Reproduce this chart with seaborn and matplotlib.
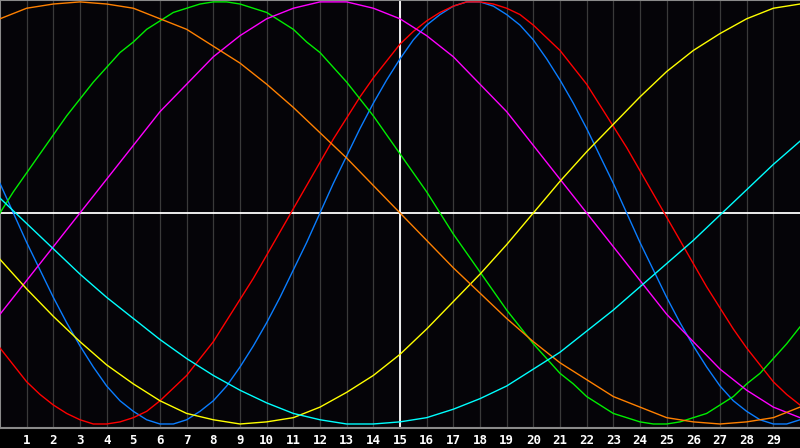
import matplotlib
matplotlib.use('Agg')
import matplotlib.pyplot as plt
import seaborn as sns
import pandas as pd


# dias do mês e valores, em % (-100..100)
dias = list(range(0, 31))                    # passo de 1 dia
meios_dias = [d / 2 for d in range(0, 61)]   # passo de meio dia (ciclos curtos)

fisico = [14, 0, -14, -27, -40, -52, -63, -73, -82, -89, -94, -98, -100, -100, -98, -94,
          -89, -82, -73, -63, -52, -40, -27, -14, 0, 14, 27, 40, 52, 63, 73, 82,
          89, 94, 98, 100, 100, 98, 94, 89, 82, 73, 63, 52, 40, 27, 14, 0,
          -14, -27, -40, -52, -63, -73, -82, -89, -94, -98, -100, -100, -98]
emocional = [-64, -72, -80, -86, -91, -95, -98, -100, -100, -99, -97, -94, -89, -83, -77, -69,
             -61, -51, -41, -31, -20, -9, 2, 13, 24, 35, 45, 55, 64, 72, 80, 86,
             91, 95, 98, 100, 100, 99, 97, 94, 89, 83, 77, 69, 61, 51, 41, 31,
             20, 9, -2, -13, -24, -35, -45, -55, -64, -72, -80, -86, -91]
intelectual = [0, 10, 19, 28, 37, 46, 54, 62, 69, 76, 81, 87, 91, 95, 97, 99,
               100, 100, 99, 97, 95, 91, 87, 81, 76, 69, 62, 54, 46, 37, 28, 19,
               10, 0, -10, -19, -28, -37, -46, -54, -62, -69, -76, -81, -87, -91, -95, -97,
               -99, -100, -100, -99, -97, -95, -91, -87, -81, -76, -69, -62, -54]
intuitivo = [-48, -32, -16, 0, 16, 32, 48, 61, 74, 84, 92, 97, 100, 100, 97, 92,
             84, 74, 61, 48, 32, 16, 0, -16, -32, -48, -61, -74, -84, -92, -97]
estetico = [-22, -36, -49, -61, -72, -81, -89, -95, -98, -100, -99, -97, -92, -85, -77, -67,
            -55, -42, -29, -15, 0, 15, 29, 42, 55, 67, 77, 85, 92, 97, 99]
consciencia = [92, 97, 99, 100, 99, 97, 92, 87, 79, 71, 61, 50, 38, 26, 13, 0,
               -13, -26, -38, -50, -61, -71, -79, -87, -92, -97, -99, -100, -99, -97, -92]
espiritual = [7, -5, -17, -29, -40, -50, -60, -69, -77, -84, -90, -95, -98, -100, -100, -99,
              -97, -93, -88, -82, -74, -66, -56, -46, -35, -24, -13, -1, 11, 23, 34]

rotulos = [str(d) for d in range(1, 30)]

cores = {
    'Físico': '#0a7dff',
    'Emocional': '#ff0000',
    'Intelectual': '#00ee00',
    'Intuitivo': '#ff00ff',
    'Estético': '#ffff00',
    'Consciência': '#ff8000',
    'Espiritual': '#00ffff',
}

series = [
    ('Físico', meios_dias, fisico),
    ('Emocional', meios_dias, emocional),
    ('Intelectual', meios_dias, intelectual),
    ('Intuitivo', dias, intuitivo),
    ('Estético', dias, estetico),
    ('Consciência', dias, consciencia),
    ('Espiritual', dias, espiritual),
]
longo = pd.concat(
    [pd.DataFrame({'dia': x, 'valor': y, 'ciclo': nome}) for nome, x, y in series],
    ignore_index=True,
)

fundo = '#050408'
fig = plt.figure(figsize=(8, 4.48), dpi=100, facecolor='black')
ax = fig.add_axes([0, 20 / 448, 1, 428 / 448])
ax.set_facecolor(fundo)

# grade vertical (um traço por dia)
for d in range(1, 30):
    ax.axvline(d, color='#3a3a3a', lw=0.9, zorder=1)

sns.lineplot(data=longo, x='dia', y='valor', hue='ciclo', palette=cores,
             lw=1.0, legend=False, ax=ax, zorder=3)

# linhas de referência
ax.axhline(0, color='white', lw=1.3, zorder=2)
ax.axvline(15, color='white', lw=1.3, zorder=2)

ax.set_xlim(0, 30)
ax.set_ylim(-101.9, 100.9)
ax.set_xticks(range(1, 30))
ax.set_xticklabels(rotulos, color='white', fontsize=9, fontweight='bold',
                   family='DejaVu Sans Mono')
ax.tick_params(axis='x', length=0, pad=4)
ax.set_yticks([])
ax.set_xlabel('')
ax.set_ylabel('')

for lado in ['left', 'top', 'bottom']:
    ax.spines[lado].set_color('#8a8a8a')
    ax.spines[lado].set_linewidth(1.5)
ax.spines['right'].set_visible(False)

fig.savefig('out.png', dpi=100, facecolor='black')
